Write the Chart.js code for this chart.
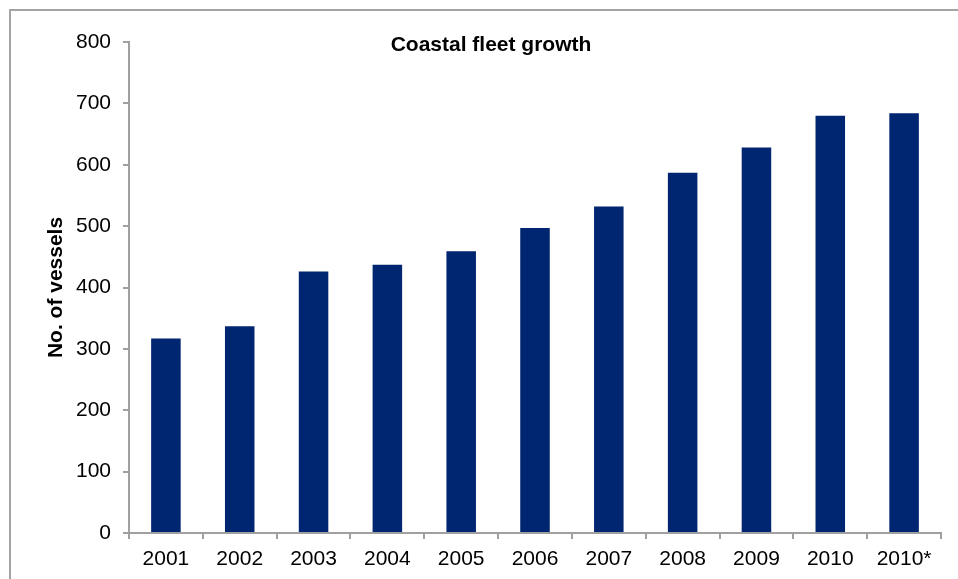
<!DOCTYPE html>
<html>
<head>
<meta charset="utf-8">
<script src="https://cdn.jsdelivr.net/npm/chart.js@4"></script>
<style>
  html, body { margin: 0; padding: 0; background: #fff; overflow: hidden; }
  #wrap { position: relative; width: 958px; height: 579px; }
  #frame {
    position: absolute; left: 9px; top: 9px; width: 1000px; height: 600px;
    border-left: 2px solid #a3a3a3; border-top: 2px solid #a3a3a3;
  }
  #title {
    position: absolute; left: 0; top: 31px; width: 982px; text-align: center;
    font: bold 21px "Liberation Sans", Arial, sans-serif; line-height: 25px; color: #000;
  }
  canvas { position: absolute; left: 0; top: 0; }
</style>
</head>
<body>
<div id="wrap">
  <div id="frame"></div>
  <canvas id="fleet" width="958" height="579"></canvas>
  <div id="title">Coastal fleet growth</div>
</div>
<script>
// Coastal fleet size per year
const years = ['2001', '2002', '2003', '2004', '2005', '2006', '2007', '2008', '2009', '2010', '2010*'];
const vessels = [317, 337, 426, 437, 459, 497, 532, 587, 628, 680, 684];
const yTicks = [0, 100, 200, 300, 400, 500, 600, 700, 800];

const axisGrey = '#a0a0a0';
const tickFont = { family: '"Liberation Sans", Arial, sans-serif', size: 21 };

const ctx = document.getElementById('fleet').getContext('2d');
new Chart(ctx, {
    type: 'bar',
    data: {
        labels: years,
        datasets: [{
            label: 'No. of vessels',
            data: vessels,
            backgroundColor: '#002571',
            borderWidth: 0,
            categoryPercentage: 1,
            barPercentage: 0.4
        }]
    },
    options: {
        responsive: false,
        animation: false,
        layout: { padding: { left: 0, right: 17, top: 42, bottom: 0 } },
        plugins: {
            legend: { display: false },
            tooltip: { enabled: false },
            title: { display: false }
        },
        scales: {
            x: {
                offset: true,
                grid: {
                    offset: true,
                    drawOnChartArea: false,
                    tickLength: 6,
                    tickColor: axisGrey,
                    lineWidth: 2
                },
                border: { color: axisGrey, width: 2 },
                ticks: { color: '#000', font: tickFont, padding: 8, maxRotation: 0, autoSkip: false },
                afterFit: (scale) => { scale.height = 46; }
            },
            y: {
                min: 0,
                max: 800,
                afterBuildTicks: (scale) => { scale.ticks = yTicks.map(v => ({ value: v })); },
                grid: {
                    drawOnChartArea: false,
                    tickLength: 6,
                    tickColor: axisGrey,
                    lineWidth: 2
                },
                border: { color: axisGrey, width: 2 },
                ticks: { color: '#000', font: tickFont, padding: 12 },
                title: {
                    display: true,
                    text: 'No. of vessels',
                    color: '#000',
                    font: { family: '"Liberation Sans", Arial, sans-serif', size: 21, weight: 'bold' },
                    padding: { top: 44, bottom: 0 }
                },
                afterFit: (scale) => { scale.width = 129; }
            }
        }
    }
});
</script>
</body>
</html>
